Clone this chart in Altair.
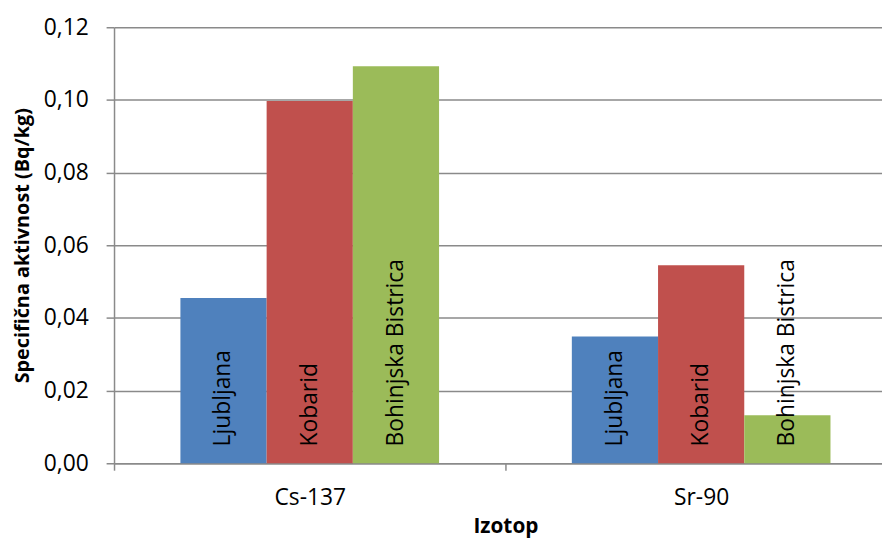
import altair as alt
import pandas as pd

isotopes = ["Cs-137", "Sr-90"]
locations = ["Ljubljana", "Kobarid", "Bohinjska Bistrica"]
cs137 = [0.0455, 0.0997, 0.1093]
sr90 = [0.0349, 0.0545, 0.0132]
colors = ["#4F81BD", "#C0504D", "#9BBB59"]
y_ticks = [0.0, 0.02, 0.04, 0.06, 0.08, 0.10, 0.12]

rows = []
for iso, vals in zip(isotopes, [cs137, sr90]):
    for loc, v in zip(locations, vals):
        rows.append({"Izotop": iso, "Lokacija": loc, "value": v})
df = pd.DataFrame(rows)

W, H = 775, 440
FONT = "Open Sans"
GRAY = "#8a8a8a"

x_enc = alt.X(
    "Izotop:N",
    sort=isotopes,
    scale=alt.Scale(range=[0, 790], paddingInner=0, paddingOuter=0),
    axis=alt.Axis(
        title="Izotop",
        labelAngle=0,
        tickBand="extent",
        labelFont=FONT,
        labelFontSize=23,
        labelColor="black",
        labelPadding=17,
        tickSize=7,
        tickColor=GRAY,
        tickWidth=1.5,
        domainColor=GRAY,
        domainWidth=1.5,
        titleFont=FONT,
        titleFontSize=21,
        titleFontWeight="bold",
        titleColor="black",
        titlePadding=6,
    ),
)
xo_enc = alt.XOffset(
    "Lokacija:N",
    sort=locations,
    scale=alt.Scale(paddingInner=0, paddingOuter=0.77),
)

bars = alt.Chart(df).mark_bar().encode(
    x=x_enc,
    xOffset=xo_enc,
    y=alt.Y(
        "value:Q",
        scale=alt.Scale(domain=[0, 0.12], nice=False),
        axis=alt.Axis(
            values=y_ticks,
            labelExpr="replace(format(datum.value, '.2f'), '.', ',')",
            title="Specifična aktivnost (Bq/kg)",
            labelFont=FONT,
            labelFontSize=23,
            labelColor="black",
            labelPadding=18,
            tickSize=8,
            tickColor=GRAY,
            tickWidth=1.5,
            domainColor=GRAY,
            domainWidth=1.5,
            grid=True,
            gridColor=GRAY,
            gridWidth=1.5,
            titleFont=FONT,
            titleFontSize=20,
            titleFontWeight="bold",
            titleColor="black",
            titlePadding=11,
        ),
    ),
    color=alt.Color(
        "Lokacija:N",
        sort=locations,
        scale=alt.Scale(domain=locations, range=colors),
        legend=None,
    ),
)

labels = alt.Chart(df).mark_text(
    angle=270,
    align="left",
    baseline="middle",
    dx=17,
    font=FONT,
    fontSize=23,
    color="black",
).encode(
    x=alt.X("Izotop:N", sort=isotopes),
    xOffset=alt.XOffset("Lokacija:N", sort=locations),
    y=alt.datum(0),
    text="Lokacija:N",
)

chart = (
    alt.layer(bars, labels)
    .properties(
        width=W,
        height=H,
        autosize=alt.AutoSizeParams(type="none"),
        padding={"left": 107, "top": 17, "right": 0, "bottom": 76},
    )
    .configure_view(stroke=None)
)

chart.save("out.html", embed_options={"renderer": "svg", "actions": False})
